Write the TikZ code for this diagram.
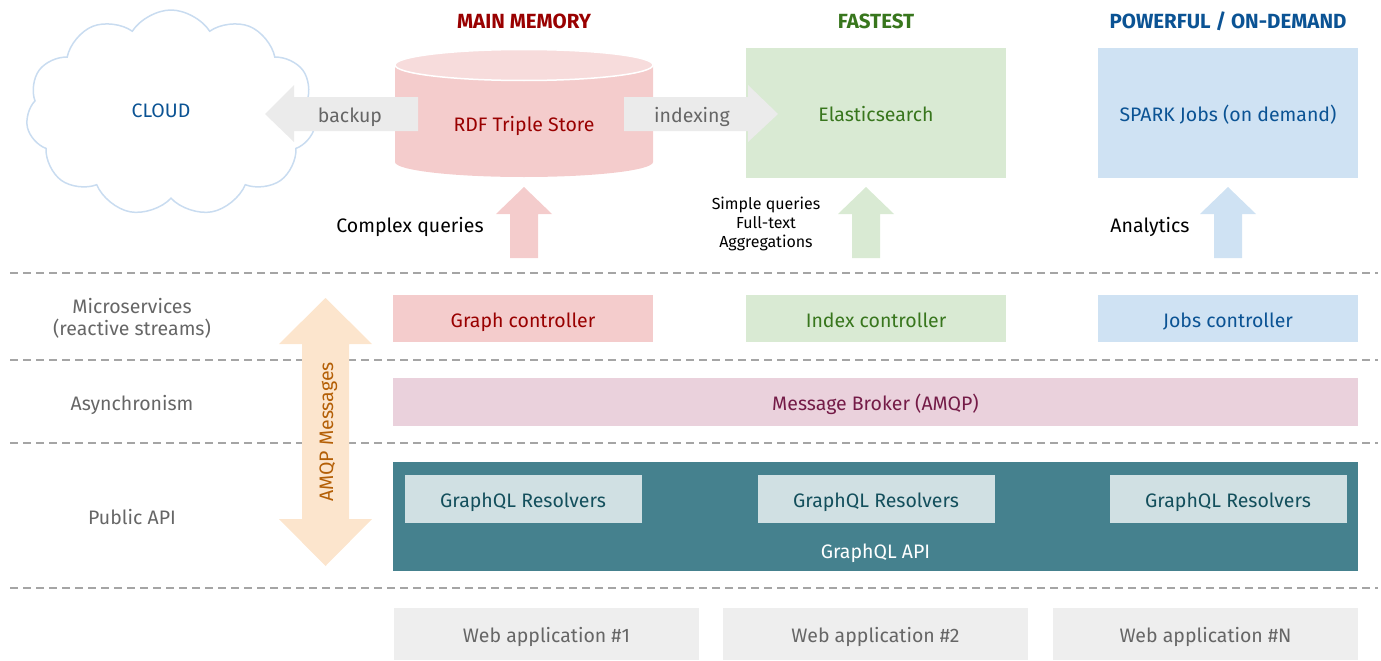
\documentclass[tikz,border=0pt]{standalone}
\usepackage{fontspec}
\setmainfont{Fira Sans}
\usetikzlibrary{shapes.symbols}
\definecolor{redfill}{HTML}{F4CCCC}
\definecolor{redtop}{HTML}{F7DCDC}
\definecolor{redtext}{HTML}{990000}
\definecolor{greenfill}{HTML}{D9EAD3}
\definecolor{greentext}{HTML}{38761D}
\definecolor{bluefill}{HTML}{CFE2F3}
\definecolor{bluetext}{HTML}{0B5394}
\definecolor{cloudline}{HTML}{C9DCF0}
\definecolor{grayarrow}{HTML}{EBEBEB}
\definecolor{graytext}{HTML}{666666}
\definecolor{dashgray}{HTML}{A5A5A5}
\definecolor{amqpfill}{HTML}{FCE5CD}
\definecolor{amqptext}{HTML}{B45F06}
\definecolor{brokerfill}{HTML}{EAD1DC}
\definecolor{brokertext}{HTML}{741B47}
\definecolor{apifill}{HTML}{45818E}
\definecolor{resfill}{HTML}{D0E0E3}
\definecolor{restext}{HTML}{134F5C}
\definecolor{webfill}{HTML}{EEEEEE}
\begin{document}
\begin{tikzpicture}[x=1pt,y=-1pt,
  every node/.style={font=\fontsize{19.5}{22}\selectfont, inner sep=0pt, text height=17pt, text depth=0pt},
  title/.style={font=\fontsize{20.5}{24}\selectfont\bfseries, text height=14.3pt},
  small/.style={font=\fontsize{16}{19}\selectfont, align=center, text height=, text depth=},
  box/.style={rectangle, minimum width=260pt, minimum height=47pt},
  bigbox/.style={rectangle, minimum width=260pt, minimum height=130pt},
  sidelabel/.style={text=graytext, align=center},
  twoline/.style={font=\fontsize{19.5}{22}\selectfont, text height=, text depth=},
  layerline/.style={draw=dashgray, line width=2pt, dash pattern=on 8pt off 5pt}
]
\useasboundingbox (0,0) rectangle (1381,661);

% cloud
\node[cloud, cloud puffs=11, cloud puff arc=115, draw=cloudline, line width=1.5pt,
      minimum width=290pt, minimum height=206pt] (cloud) at (171,113) {};
\node[text=bluetext] (cloudlbl) at (161,109) {CLOUD};

% titles
\node[title, text=redtext] (t1) at (524,21) {MAIN MEMORY};
\node[title, text=greentext] (t2) at (876,21) {FASTEST};
\node[title, text=bluetext] (t3) at (1228,21) {POWERFUL / ON-DEMAND};

% cylinder
\fill[redfill] (395,65) -- (395,162) arc[start angle=180, end angle=360, x radius=129pt, y radius=15pt] -- (653,65) -- cycle;
\draw[fill=redtop, draw=white, line width=1.5pt] (524,65) ellipse [x radius=129pt, y radius=15.5pt];
\node[text=redtext] (rdf) at (524,123) {RDF Triple Store};

% top boxes
\node[bigbox, fill=greenfill, text=greentext] (es) at (876,113) {Elasticsearch};
\node[bigbox, fill=bluefill, text=bluetext] (spark) at (1228,113) {SPARK Jobs (on demand)};

% backup and indexing arrows
\fill[grayarrow] (418,97) -- (294,97) -- (294,85) -- (265,114) -- (294,142) -- (294,131) -- (418,131) -- cycle;
\node[text=graytext] (backup) at (350,114) {backup};
\fill[grayarrow] (624,97) -- (748,97) -- (748,85) -- (778,114) -- (748,142) -- (748,131) -- (624,131) -- cycle;
\node[text=graytext] (indexing) at (692,114) {indexing};

% up arrows
\fill[redfill] (510,258) -- (510,214) -- (496,214) -- (524,187) -- (552,214) -- (538,214) -- (538,258) -- cycle;
\fill[greenfill] (852,258) -- (852,214) -- (838,214) -- (866,187) -- (894,214) -- (880,214) -- (880,258) -- cycle;
\fill[bluefill] (1214,258) -- (1214,214) -- (1200,214) -- (1228,187) -- (1256,214) -- (1242,214) -- (1242,258) -- cycle;

\node (cq) at (410,224) {Complex queries};
\node[small] (sq) at (766,224) {Simple queries\\Full-text\\Aggregations};
\node (an) at (1150,224) {Analytics};

% dashed layer lines
\coordinate (l1a) at (10,272.5); \coordinate (l1b) at (1378,272.5);
\coordinate (l2a) at (10,360); \coordinate (l2b) at (1378,360);
\coordinate (l3a) at (10,442.5); \coordinate (l3b) at (1378,442.5);
\coordinate (l4a) at (10,587.5); \coordinate (l4b) at (1378,587.5);
\draw[layerline] (l1a) -- (l1b);
\draw[layerline] (l2a) -- (l2b);
\draw[layerline] (l3a) -- (l3b);
\draw[layerline] (l4a) -- (l4b);

% side labels
\node[sidelabel, twoline] (ms) at (132,318) {Microservices\\(reactive streams)};
\node[sidelabel] (as) at (132,402) {Asynchronism};
\node[sidelabel] (pa) at (132,516) {Public API};

% AMQP double arrow
\fill[amqpfill] (325.5,298) -- (372,344) -- (349,344) -- (349,519) -- (372,519) -- (325.5,566) -- (279,519) -- (302,519) -- (302,344) -- (279,344) -- cycle;
\node[text=amqptext, rotate=90] (amqp) at (324.5,432) {AMQP Messages};

% controllers
\node[box, fill=redfill, text=redtext] (gc) at (523,318.5) {Graph controller};
\node[box, fill=greenfill, text=greentext] (ic) at (876,318.5) {Index controller};
\node[box, fill=bluefill, text=bluetext] (jc) at (1228,318.5) {Jobs controller};

% broker
\node[rectangle, minimum width=965pt, minimum height=48pt, fill=brokerfill, text=brokertext] (mb) at (875.5,402) {Message Broker (AMQP)};

% GraphQL API
\node[rectangle, minimum width=965pt, minimum height=109pt, fill=apifill] (api) at (875.5,516.5) {};
\node[text=white] (apilbl) at (875.5,550) {GraphQL API};
\node[rectangle, minimum width=237pt, minimum height=48pt, fill=resfill, text=restext] (r1) at (523,499) {GraphQL Resolvers};
\node[rectangle, minimum width=237pt, minimum height=48pt, fill=resfill, text=restext] (r2) at (876,499) {GraphQL Resolvers};
\node[rectangle, minimum width=237pt, minimum height=48pt, fill=resfill, text=restext] (r3) at (1228,499) {GraphQL Resolvers};

% web apps
\node[rectangle, minimum width=305pt, minimum height=52pt, fill=webfill, text=graytext] (w1) at (546.5,634) {Web application \#1};
\node[rectangle, minimum width=305pt, minimum height=52pt, fill=webfill, text=graytext] (w2) at (875.5,634) {Web application \#2};
\node[rectangle, minimum width=305pt, minimum height=52pt, fill=webfill, text=graytext] (w3) at (1205.5,634) {Web application \#N};
\end{tikzpicture}
\end{document}
